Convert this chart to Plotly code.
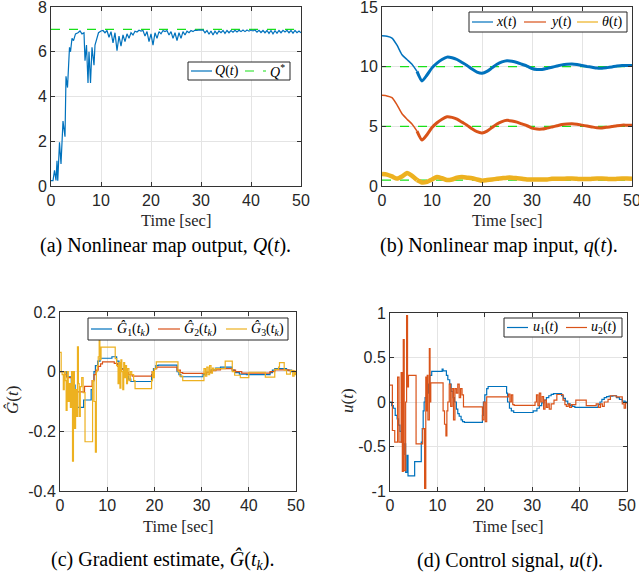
import numpy as np
import plotly.graph_objects as go

W, H = 639, 580

# ---------------- data ----------------
time_ticks = [0, 10, 20, 30, 40, 50]

# (a) nonlinear map output Q(t) and its optimum Q*
Q_time_early = [0, 0.4, 0.7, 1.0, 1.2, 1.35, 1.7, 2.0, 2.4, 2.8, 3.0, 3.3, 3.7, 3.9, 4.2, 4.5,
                4.9, 5.4, 5.8, 6.2, 6.6, 6.8, 7.1, 7.4, 7.6, 7.9, 8.2, 8.6, 8.8, 9.1, 9.5, 10.0]
Q_early = [0.24, 0.24, 0.7, 0.25, 1.13, 0.24, 1.95, 0.98, 2.9, 2.2, 4.9, 4.4, 6.2, 6.0, 6.6, 6.5,
           6.8, 6.85, 6.93, 6.8, 6.85, 5.6, 6.3, 4.6, 6.0, 4.6, 6.2, 5.4, 6.3, 6.6, 6.85, 6.93]
Q_time_late = np.round(np.arange(10.4, 50.01, 0.4), 1)
Q_late = [6.95, 6.85, 6.95, 6.65, 6.9, 6.4, 6.85, 6.05, 6.7, 6.25,
          6.75, 6.45, 6.8, 6.6, 6.85, 6.75, 6.92, 6.88, 6.96, 6.92,
          6.95, 6.7, 6.9, 6.45, 6.8, 6.3, 6.85, 6.6, 6.9, 6.8,
          6.95, 6.9, 6.95, 6.75, 6.9, 6.6, 6.85, 6.5, 6.85, 6.6,
          6.9, 6.75, 6.92, 6.85, 6.95, 6.9, 6.97, 6.95, 6.98, 6.97,
          6.98, 6.85, 6.95, 6.78, 6.93, 6.75, 6.92, 6.8, 6.93, 6.85,
          6.95, 6.82, 6.95, 6.85, 6.95, 6.87, 6.96, 6.88, 6.96, 6.9,
          6.97, 6.9, 6.97, 6.92, 6.97, 6.93, 6.97, 6.88, 6.96, 6.86,
          6.95, 6.85, 6.95, 6.82, 6.95, 6.8, 6.94, 6.83, 6.95, 6.85,
          6.96, 6.88, 6.96, 6.85, 6.95, 6.83, 6.95, 6.85, 6.93, 6.85]
Q_star = 7.0

# (b) nonlinear map input q(t) = [x, y, theta] (centre of the rippling trajectories)
q_time = list(range(51))
x_vals = [12.6, 12.55, 12.4, 11.8, 11.0, 10.6, 10.2, 9.6, 8.8, 9.3,
          9.9, 10.3, 10.6, 10.8, 10.75, 10.6, 10.35, 10.1, 9.8, 9.55,
          9.45, 9.6, 9.9, 10.2, 10.4, 10.5, 10.45, 10.35, 10.2, 10.05,
          9.85, 9.77, 9.77, 9.85, 9.95, 10.05, 10.15, 10.2, 10.22, 10.18,
          10.1, 10.02, 9.95, 9.88, 9.87, 9.92, 9.98, 10.05, 10.1, 10.1, 10.1]
y_vals = [7.6, 7.55, 7.4, 6.8, 6.05, 5.6, 5.2, 4.6, 3.85, 4.3,
          4.9, 5.3, 5.6, 5.8, 5.75, 5.6, 5.35, 5.1, 4.8, 4.55,
          4.45, 4.6, 4.9, 5.2, 5.4, 5.5, 5.45, 5.35, 5.2, 5.05,
          4.85, 4.77, 4.77, 4.85, 4.95, 5.05, 5.15, 5.2, 5.22, 5.18,
          5.1, 5.02, 4.95, 4.88, 4.87, 4.92, 4.98, 5.05, 5.1, 5.1, 5.1]
theta_vals = [1.0, 0.95, 0.8, 0.62, 0.8, 1.08, 0.85, 0.5, 0.3, 0.35,
              0.55, 0.75, 0.65, 0.5, 0.55, 0.7, 0.75, 0.7, 0.65, 0.55,
              0.45, 0.5, 0.55, 0.6, 0.65, 0.7, 0.7, 0.65, 0.6, 0.55,
              0.55, 0.55, 0.55, 0.55, 0.6, 0.6, 0.6, 0.62, 0.62, 0.6,
              0.58, 0.58, 0.6, 0.62, 0.62, 0.6, 0.58, 0.6, 0.62, 0.62, 0.6]
q_targets = [10.0, 5.0, 0.5]

# (c) gradient estimates (held between sampling instants): (t_k, value)
G1_steps = [(0, 0.0), (1.4, -0.017), (2.4, -0.045), (3.2, -0.08), (3.6, -0.12), (5.0, -0.095),
            (6.6, -0.06), (6.9, -0.03), (7.2, 0.0), (7.5, 0.02), (8.0, 0.035), (8.5, 0.045),
            (11.0, 0.05), (12.0, 0.035), (12.5, 0.02), (13.0, 0.01), (13.5, 0.0), (14.0, -0.015),
            (14.5, -0.025), (15.0, -0.033), (19.4, -0.01), (19.8, 0.01), (20.3, 0.02), (20.8, 0.022),
            (24.8, 0.0), (25.2, -0.01), (25.6, -0.017), (30.3, -0.01), (31.0, -0.002), (32.0, 0.006),
            (33.0, 0.012), (34.0, 0.015), (36.5, 0.005), (37.0, -0.003), (38.0, -0.008), (39.5, -0.01),
            (44.5, -0.003), (45.0, 0.005), (45.5, 0.01), (48.0, 0.005), (49.0, 0.0), (50.0, 0.0)]
G2_steps = [(0, 0.0), (1.0, -0.01), (1.5, -0.02), (2.5, -0.035), (3.0, -0.068), (5.2, -0.049),
            (6.8, -0.03), (7.2, -0.01), (7.6, 0.005), (8.1, 0.018), (8.6, 0.026), (9.0, 0.033),
            (11.5, 0.028), (12.2, 0.018), (13.0, 0.008), (13.8, -0.003), (14.5, -0.01), (15.3, -0.015),
            (19.5, 0.0), (20.0, 0.01), (20.5, 0.015), (24.8, 0.005), (25.5, -0.003), (26.0, -0.006),
            (31.0, -0.002), (32.0, 0.003), (33.0, 0.006), (34.0, 0.01), (36.5, 0.005), (37.2, 0.0),
            (38.5, -0.005), (44.5, 0.0), (45.5, 0.006), (48.5, 0.003), (49.5, 0.0), (50.0, 0.0)]
G3_steps = [(0, 0.065), (0.25, 0.0), (0.45, -0.01), (0.7, -0.06), (0.9, 0.0), (1.1, -0.03),
            (1.3, -0.13), (1.5, 0.0), (1.75, -0.1), (1.95, -0.04), (2.2, -0.12), (2.45, 0.0),
            (2.65, -0.3), (2.85, 0.0), (3.05, -0.19), (3.3, -0.06), (3.5, -0.15), (3.7, 0.083),
            (3.9, -0.04), (4.05, -0.15), (4.3, -0.05), (4.6, -0.02), (4.9, -0.07), (5.3, -0.235),
            (6.9, -0.03), (7.2, -0.1), (7.5, -0.27), (7.7, 0.0), (7.9, 0.02), (8.1, 0.05),
            (8.3, 0.11), (8.45, 0.04), (8.7, 0.082), (11.7, 0.044), (12.0, 0.02), (12.3, -0.04),
            (12.5, 0.03), (12.7, -0.055), (12.9, 0.04), (13.1, 0.0), (13.3, -0.06), (13.5, 0.03),
            (13.7, -0.02), (13.9, 0.02), (14.1, -0.04), (14.3, 0.01), (14.6, -0.03), (14.9, 0.0),
            (15.2, -0.01), (15.6, -0.03), (15.9, -0.057), (19.4, -0.03), (19.6, 0.0), (19.8, -0.02),
            (20.0, 0.01), (20.4, 0.033), (25.0, 0.0), (25.4, -0.015), (26.0, -0.03), (30.5, 0.01),
            (30.8, -0.015), (31.1, 0.015), (31.4, -0.01), (31.7, 0.02), (32.0, -0.005), (32.3, 0.012),
            (32.6, 0.005), (33.0, 0.01), (35.0, 0.035), (36.5, 0.0), (37.0, -0.012), (38.2, -0.02),
            (40.0, -0.002), (43.5, -0.018), (45.5, 0.008), (46.3, 0.015), (46.5, 0.03), (47.5, 0.005),
            (48.0, -0.008), (48.8, 0.004), (49.3, -0.015), (49.6, 0.003), (49.8, -0.01), (50.0, 0.0)]

# (d) control signal u(t)
u1_steps = [(0, 0.0), (0.35, -0.04), (0.7, -0.07), (1.1, -0.15), (1.5, -0.19), (1.8, -0.26),
            (2.1, -0.33), (2.4, -0.45), (2.7, -0.59), (3.0, -0.47), (3.3, -0.79), (3.6, -0.6),
            (3.8, -0.83), (5.2, -0.67), (6.6, -0.45), (6.8, -0.3), (7.0, -0.1), (7.2, 0.0),
            (7.4, 0.05), (7.7, 0.1), (8.1, 0.2), (8.4, 0.3), (8.8, 0.345), (11.0, 0.37),
            (11.2, 0.35), (11.9, 0.3), (12.2, 0.25), (12.6, 0.2), (12.9, 0.12), (13.3, 0.05),
            (13.6, 0.0), (14.0, -0.08), (14.3, -0.13), (14.6, -0.16), (15.0, -0.2), (15.3, -0.22),
            (15.7, -0.23), (19.5, -0.15), (19.7, 0.0), (20.0, 0.08), (20.4, 0.15), (20.7, 0.174),
            (24.6, 0.1), (24.8, 0.0), (25.2, -0.07), (25.6, -0.1), (26.1, -0.118), (30.2, -0.1),
            (31.0, -0.07), (31.5, -0.04), (32.0, -0.01), (32.5, 0.02), (33.0, 0.05), (33.5, 0.07),
            (34.0, 0.085), (34.5, 0.095), (36.2, 0.07), (36.6, 0.04), (37.0, 0.01), (37.5, -0.02),
            (38.0, -0.04), (38.5, -0.05), (39.0, -0.06), (43.9, -0.03), (44.3, 0.0), (44.7, 0.03),
            (45.2, 0.05), (45.7, 0.06), (46.2, 0.065), (47.0, 0.07), (47.8, 0.05), (48.4, 0.03),
            (49.0, 0.01), (49.6, 0.0), (50.0, 0.0)]
u2_steps = [(0, 0.19), (0.5, -0.32), (1.0, -0.45), (1.6, 0.28), (1.9, -0.45), (2.35, 0.33),
            (2.6, -0.78), (2.8, 0.7), (3.0, -0.77), (3.3, 0.0), (3.5, 0.97), (3.7, 0.17),
            (3.9, 0.3), (5.5, -0.47), (6.9, -0.3), (7.3, -0.97), (7.55, 0.28), (7.7, -0.1),
            (7.85, 0.3), (8.0, -0.2), (8.3, 0.6), (8.45, 0.0), (8.6, 0.215), (11.2, -0.1),
            (11.5, -0.25), (11.8, -0.38), (12.0, -0.1), (12.2, 0.0), (12.5, 0.2), (12.8, -0.05),
            (13.1, 0.15), (13.4, -0.2), (13.7, 0.15), (14.0, 0.1), (14.3, 0.2), (14.6, 0.05),
            (14.9, 0.15), (15.2, 0.08), (15.5, -0.055), (19.5, -0.2), (19.8, 0.0), (20.1, -0.22),
            (20.4, 0.057), (25.0, 0.09), (25.3, 0.0), (25.6, 0.08), (25.9, -0.03), (26.2, -0.038),
            (30.6, 0.0), (30.9, 0.08), (31.2, -0.04), (31.5, 0.1), (31.8, 0.0), (32.1, 0.06),
            (32.4, -0.08), (32.7, 0.02), (33.0, -0.06), (33.3, -0.02), (33.6, -0.08), (34.0, -0.02),
            (34.6, 0.02), (35.2, 0.084), (36.5, 0.02), (36.9, -0.03), (37.2, -0.05), (37.6, -0.02),
            (37.9, -0.06), (38.3, -0.03), (39.2, 0.02), (41.4, -0.04), (43.5, -0.02), (44.0, -0.06),
            (44.4, -0.02), (44.8, -0.05), (45.2, 0.0), (46.0, 0.03), (46.5, 0.07), (47.7, 0.057),
            (49.0, -0.02), (49.4, -0.07), (49.7, -0.01), (50.0, -0.01)]

# ---------------- styling ----------------
BLUE, ORANGE, YELLOW, GREEN = "#0072BD", "#D95319", "#EDB120", "#19E019"
AX = "#333333"
TICKFONT = dict(family="Liberation Sans, Arial, sans-serif", size=16, color="#262626")
SERIF = "Liberation Serif, Times New Roman, serif"


def px(x):
    return x / W


def py(y):
    return 1 - y / H


# axes pixel boxes: (left, right, top, bottom)
boxes = {
    "a": (51, 301, 7, 186),
    "b": (382, 632, 7, 186),
    "c": (60, 296, 312, 491),
    "d": (390, 627, 313, 491),
}

fig = go.Figure()


def unzip(steps):
    return [s[0] for s in steps], [s[1] for s in steps]


def line(x, y, color, axis, width=1.2, dash=None, shape="linear", smoothing=None):
    ln = dict(color=color, width=width, shape=shape)
    if dash:
        ln["dash"] = dash
    if smoothing is not None:
        ln["smoothing"] = smoothing
    fig.add_trace(go.Scatter(x=x, y=y, mode="lines", line=ln, showlegend=False,
                             xaxis="x" + axis, yaxis="y" + axis, hoverinfo="skip"))


# (a)
line([0, 50], [Q_star, Q_star], GREEN, "", dash="dash")
line(Q_time_early + list(Q_time_late), Q_early + Q_late, BLUE, "")

# (b)
for v in q_targets:
    line([0, 50], [v, v], GREEN, "2", dash="dash")
for vals, col, w0, w1 in [(x_vals, BLUE, 1.5, 3.0), (y_vals, ORANGE, 1.5, 3.0), (theta_vals, YELLOW, 4.5, 4.5)]:
    line(q_time[:8], vals[:8], col, "2", width=w0, shape="spline", smoothing=0.6)
    line(q_time[7:], vals[7:], col, "2", width=w1, shape="spline", smoothing=0.6)

# (c)
for steps, col in [(G1_steps, BLUE), (G2_steps, ORANGE), (G3_steps, YELLOW)]:
    t, v = unzip(steps)
    line(t, v, col, "3", shape="hv")

# (d)
for steps, col in [(u1_steps, BLUE), (u2_steps, ORANGE)]:
    t, v = unzip(steps)
    line(t, v, col, "4", shape="hv")


def axis_style(dom, rng, tickvals, ticktext, anchor):
    return dict(domain=dom, range=rng, tickvals=tickvals, ticktext=ticktext, anchor=anchor,
                showline=True, linecolor=AX, linewidth=1, mirror="ticks", ticks="inside",
                ticklen=4, tickcolor=AX, showgrid=True, gridcolor="#E4E4E4", gridwidth=1,
                zeroline=False, tickfont=TICKFONT, fixedrange=True, automargin=False,
                ticklabeloverflow="allow")


y_specs = {
    "a": ([0, 8], [0, 2, 4, 6, 8], ["0", "2", "4", "6", "8"]),
    "b": ([0, 15], [0, 5, 10, 15], ["0", "5", "10", "15"]),
    "c": ([-0.4, 0.2], [-0.4, -0.2, 0, 0.2], ["-0.4", "-0.2", "0", "0.2"]),
    "d": ([-1, 1], [-1, -0.5, 0, 0.5, 1], ["-1", "-0.5", "0", "0.5", "1"]),
}
layout = {}
for i, key in enumerate(["a", "b", "c", "d"]):
    l, r, t, b = boxes[key]
    sfx = "" if i == 0 else str(i + 1)
    layout["xaxis" + sfx] = axis_style([px(l), px(r)], [0, 50], time_ticks,
                                       [str(v) for v in time_ticks], "y" + sfx)
    rng, tv, tt = y_specs[key]
    layout["yaxis" + sfx] = axis_style([py(b), py(t)], rng, tv, tt, "x" + sfx)

shapes, annos = [], []


def text(x, y, s, size=16, angle=0, xanchor="center", font=SERIF, color="#000000"):
    annos.append(dict(x=px(x), y=py(y), xref="paper", yref="paper", text=s, showarrow=False,
                      xanchor=xanchor, yanchor="middle", textangle=angle,
                      font=dict(family=font, size=size, color=color)))


def legend(box, items):
    x0, x1, y0, y1 = box
    shapes.append(dict(type="rect", xref="paper", yref="paper", x0=px(x0), x1=px(x1),
                       y0=py(y1), y1=py(y0), fillcolor="white", line=dict(color="#262626", width=1),
                       layer="above"))
    yc = (y0 + y1) / 2
    for lx0, lx1, col, dash, lab, tx in items:
        shapes.append(dict(type="line", xref="paper", yref="paper", x0=px(lx0), x1=px(lx1),
                           y0=py(yc), y1=py(yc), line=dict(color=col, width=1.2, dash=dash),
                           layer="above"))
        text(tx, yc, lab, size=14, xanchor="left")


legend((188, 290, 62, 80), [(191, 212, BLUE, "solid", "<i>Q</i>(<i>t</i>)", 213),
                            (245, 266, GREEN, "dash", "<i>Q</i><sup>*</sup>", 268)])
legend((469, 627, 12, 32), [(472, 493, BLUE, "solid", "<i>x</i>(<i>t</i>)", 494),
                            (524, 546, ORANGE, "solid", "<i>y</i>(<i>t</i>)", 548),
                            (577, 598, YELLOW, "solid", "<i>θ</i>(<i>t</i>)", 600)])
legend((88, 288, 318, 340), [(91, 112, BLUE, "solid", "<i>Ĝ</i><sub>1</sub>(<i>t<sub>k</sub></i>)", 115),
                             (158, 180, ORANGE, "solid", "<i>Ĝ</i><sub>2</sub>(<i>t<sub>k</sub></i>)", 182),
                             (226, 247, YELLOW, "solid", "<i>Ĝ</i><sub>3</sub>(<i>t<sub>k</sub></i>)", 249)])
legend((504, 622, 318, 337), [(507, 528, BLUE, "solid", "<i>u</i><sub>1</sub>(<i>t</i>)", 531),
                              (566, 587, ORANGE, "solid", "<i>u</i><sub>2</sub>(<i>t</i>)", 589)])

# axis labels
LBL = "#262626"
text(176, 220, "Time [sec]", size=16.5, color=LBL)
text(507, 220, "Time [sec]", size=16.5, color=LBL)
text(178, 526, "Time [sec]", size=16.5, color=LBL)
text(508, 526, "Time [sec]", size=16.5, color=LBL)
text(12, 400, "<i>Ĝ</i>(<i>t</i>)", size=17, angle=-90, color=LBL)
text(347, 400, "<i>u</i>(<i>t</i>)", size=17, angle=-90, color=LBL)

# captions
text(166, 245, "(a) Nonlinear map output, <i>Q</i>(<i>t</i>).", size=20)
text(499, 245, "(b) Nonlinear map input, <i>q</i>(<i>t</i>).", size=20)
text(162, 560, "(c) Gradient estimate, <i>Ĝ</i>(<i>t<sub>k</sub></i>).", size=20)
text(510, 560, "(d) Control signal, <i>u</i>(<i>t</i>).", size=20)

fig.update_layout(width=W, height=H, margin=dict(l=0, r=0, t=0, b=0), autosize=False,
                  paper_bgcolor="white", plot_bgcolor="white", showlegend=False,
                  shapes=shapes, annotations=annos, **layout)

fig.write_html("out.html", config={"displayModeBar": False},
               post_script="document.body.style.margin='0px';document.body.style.overflow='hidden';")
